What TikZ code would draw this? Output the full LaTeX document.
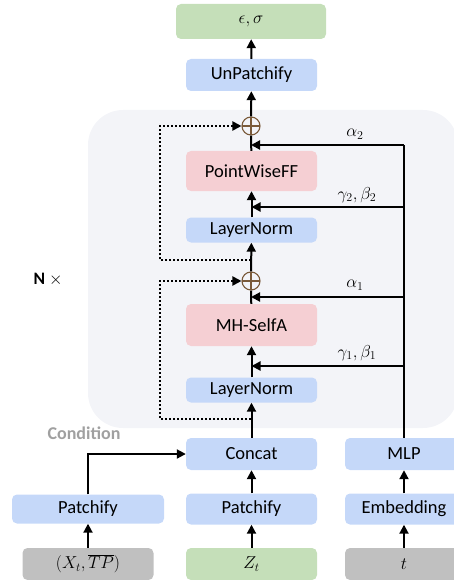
\documentclass[tikz,border=0pt]{standalone}
\usepackage{fontspec}
\setmainfont{Carlito}
\usepackage{tikz}
\usetikzlibrary{arrows.meta,positioning,calc}

\definecolor{boxblue}{HTML}{C5D8F9}
\definecolor{boxpink}{HTML}{F5CFD3}
\definecolor{boxgreen}{HTML}{C5DFB9}
\definecolor{boxgrey}{HTML}{C0C0C0}
\definecolor{regionbg}{HTML}{F3F4F8}
\definecolor{plusbrown}{HTML}{7A5A3A}
\definecolor{condgrey}{HTML}{A0A0A0}

\begin{document}
\begin{tikzpicture}[x=1pt, y=-1pt,
	font=\fontsize{18.5}{21}\selectfont,
	blk/.style={rectangle, rounded corners=5pt, fill=boxblue, minimum width=131pt, minimum height=32pt, inner sep=0pt},
	ffblk/.style={blk, fill=boxpink},
	inblk/.style={blk, fill=boxgreen},
	grblk/.style={blk, fill=boxgrey},
	arr/.style={line width=2pt, -{Triangle[length=9pt,width=9pt]}},
	flow/.style={line width=2pt},
	res/.style={line width=2pt, dotted, -{Triangle[length=9pt,width=9pt]}},
	addop/.style={circle, draw=plusbrown, line width=1.1pt, minimum size=18pt, inner sep=0pt,
		path picture={\draw[plusbrown, line width=1.1pt]
			(path picture bounding box.north) -- (path picture bounding box.south)
			(path picture bounding box.west) -- (path picture bounding box.east);}}
	]

	\useasboundingbox (0,0) rectangle (453,580);
	\fill [regionbg, rounded corners=35pt] (88,110) rectangle (458,428);

	% bottom row
	\node[grblk] (cond) at (88,564) {$(X_t,\overline{TP})$};
	\node[inblk] (zt) at (251.5,564) {$Z_t$};
	\node[grblk, minimum width=118pt] (tin) at (404,564) {$t$};

	\node[blk, minimum height=29pt, minimum width=152pt] (patchc) at (88,509) {Patchify};
	\node[blk, minimum height=31pt] (patchz) at (251.5,509) {Patchify};
	\node[blk, minimum height=31pt, minimum width=118pt] (emb) at (404,509) {Embedding};

	\node[blk] (concat) at (251.5,454) {Concat};
	\node[blk, minimum width=118pt] (mlp) at (404,454) {MLP};

	% block
	\node[blk, minimum height=25pt] (ln1) at (251.5,390) {LayerNorm};
	\node[ffblk, minimum height=42pt] (msa) at (251.5,325) {MH-SelfA};
	\node[addop] (plus1) at (251,281) {};
	\node[blk, minimum height=25pt] (ln2) at (251.5,230) {LayerNorm};
	\node[ffblk, minimum height=40pt] (pwff) at (251.5,171) {PointWiseFF};
	\node[addop] (plus2) at (251,126) {};

	\node[blk] (unp) at (251.5,75) {UnPatchify};
	\node[inblk, minimum width=150pt, minimum height=35pt] (out) at (251,21.5) {$\epsilon,\sigma$};

	\node[font=\fontsize{18}{20}\selectfont\bfseries, text=condgrey] (condlbl) at (84,433) {Condition};
	\node[font=\fontsize{17.5}{20}\selectfont] (nrep) at (48,280) {\textbf{N} $\times$};

	% main flow
	\draw[arr] (cond) -- (patchc);
	\draw[arr] (zt) -- (patchz);
	\draw[arr] (tin) -- (emb);
	\draw[arr] (patchz) -- (concat);
	\draw[arr] (emb) -- (mlp);
	\draw[arr] (patchc.north) |- (concat.west);
	\draw[arr] (concat) -- (ln1);
	\draw[arr] (ln1) -- (msa);
	\draw[flow] (msa) -- (plus1);
	\draw[arr] (plus1) -- (ln2);
	\draw[arr] (ln2) -- (pwff);
	\draw[flow] (pwff) -- (plus2);
	\draw[arr] (plus2) -- (unp);
	\draw[arr] (unp) -- (out);

	% conditioning from MLP
	\coordinate (a2) at (404,145);
	\coordinate (g2) at (404,207);
	\coordinate (a1) at (404,297);
	\coordinate (g1) at (404,366);
	\draw[flow] (mlp.north) -- (a2);
	\draw[arr] (a2) -- (a2 -| plus2);
	\draw[arr] (g2) -- (g2 -| ln2);
	\draw[arr] (a1) -- (a1 -| plus1);
	\draw[arr] (g1) -- (g1 -| ln1);
	\node (la2) at (355,134) {$\alpha_2$};
	\node (lg2) at (357,195) {$\gamma_2,\beta_2$};
	\node (la1) at (355,285) {$\alpha_1$};
	\node (lg1) at (357,353) {$\gamma_1,\beta_1$};

	% residuals
	\coordinate (r2) at (251,260);
	\coordinate (r1) at (251,419);
	\draw[res] (r2) -- ++(-91,0) |- (plus2.west);
	\draw[res] (r1) -- ++(-91,0) |- (plus1.west);

\end{tikzpicture}
\end{document}
